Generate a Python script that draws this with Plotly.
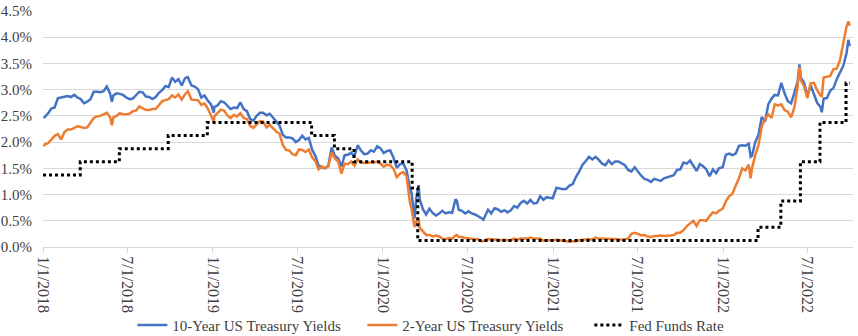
import plotly.graph_objects as go

# ---------------- data (weekly readings, %) ----------------
DATES = [
    # 2018
    "2018-01-02", "2018-01-05", "2018-01-12", "2018-01-19", "2018-01-26",
    "2018-02-02", "2018-02-09", "2018-02-16", "2018-02-23",
    "2018-03-02", "2018-03-09", "2018-03-16", "2018-03-23", "2018-03-30",
    "2018-04-06", "2018-04-13", "2018-04-20", "2018-04-27",
    "2018-05-04", "2018-05-11", "2018-05-18", "2018-05-25", "2018-05-29",
    "2018-06-01", "2018-06-08", "2018-06-15", "2018-06-22", "2018-06-29",
    "2018-07-06", "2018-07-13", "2018-07-20", "2018-07-27",
    "2018-08-03", "2018-08-10", "2018-08-17", "2018-08-24", "2018-08-31",
    "2018-09-07", "2018-09-14", "2018-09-21", "2018-09-28",
    "2018-10-05", "2018-10-12", "2018-10-19", "2018-10-26",
    "2018-11-02", "2018-11-08", "2018-11-16", "2018-11-23", "2018-11-30",
    "2018-12-07", "2018-12-14", "2018-12-21", "2018-12-28",
    # 2019
    "2019-01-03", "2019-01-04", "2019-01-11", "2019-01-18", "2019-01-25",
    "2019-02-01", "2019-02-08", "2019-02-15", "2019-02-22",
    "2019-03-01", "2019-03-08", "2019-03-15", "2019-03-22", "2019-03-29",
    "2019-04-05", "2019-04-12", "2019-04-19", "2019-04-26",
    "2019-05-03", "2019-05-10", "2019-05-17", "2019-05-24", "2019-05-31",
    "2019-06-07", "2019-06-14", "2019-06-21", "2019-06-28",
    "2019-07-05", "2019-07-12", "2019-07-19", "2019-07-26",
    "2019-08-02", "2019-08-09", "2019-08-16", "2019-08-23", "2019-08-30",
    "2019-09-06", "2019-09-13", "2019-09-20", "2019-09-27",
    "2019-10-04", "2019-10-11", "2019-10-18", "2019-10-25",
    "2019-11-01", "2019-11-08", "2019-11-15", "2019-11-22", "2019-11-29",
    "2019-12-06", "2019-12-13", "2019-12-20", "2019-12-27",
    # 2020
    "2020-01-03", "2020-01-10", "2020-01-17", "2020-01-24", "2020-01-31",
    "2020-02-07", "2020-02-14", "2020-02-21", "2020-02-28",
    "2020-03-03", "2020-03-06", "2020-03-09", "2020-03-13", "2020-03-18", "2020-03-20", "2020-03-27",
    "2020-04-03", "2020-04-10", "2020-04-17", "2020-04-24",
    "2020-05-01", "2020-05-08", "2020-05-15", "2020-05-22", "2020-05-29",
    "2020-06-05", "2020-06-08", "2020-06-12", "2020-06-19", "2020-06-26",
    "2020-07-03", "2020-07-10", "2020-07-17", "2020-07-24", "2020-07-31",
    "2020-08-04", "2020-08-07", "2020-08-14", "2020-08-21", "2020-08-28",
    "2020-09-04", "2020-09-11", "2020-09-18", "2020-09-25",
    "2020-10-02", "2020-10-09", "2020-10-16", "2020-10-23", "2020-10-30",
    "2020-11-06", "2020-11-13", "2020-11-20", "2020-11-27",
    "2020-12-04", "2020-12-11", "2020-12-18", "2020-12-24", "2020-12-31",
    # 2021
    "2021-01-08", "2021-01-15", "2021-01-22", "2021-01-29",
    "2021-02-05", "2021-02-12", "2021-02-19", "2021-02-26",
    "2021-03-05", "2021-03-12", "2021-03-19", "2021-03-26",
    "2021-04-02", "2021-04-09", "2021-04-16", "2021-04-23", "2021-04-30",
    "2021-05-07", "2021-05-14", "2021-05-21", "2021-05-28",
    "2021-06-04", "2021-06-11", "2021-06-18", "2021-06-25",
    "2021-07-02", "2021-07-09", "2021-07-16", "2021-07-23", "2021-07-30",
    "2021-08-06", "2021-08-13", "2021-08-20", "2021-08-27",
    "2021-09-03", "2021-09-10", "2021-09-17", "2021-09-24",
    "2021-10-01", "2021-10-08", "2021-10-15", "2021-10-22", "2021-10-29",
    "2021-11-05", "2021-11-12", "2021-11-19", "2021-11-26",
    "2021-12-03", "2021-12-10", "2021-12-17", "2021-12-23", "2021-12-31",
    # 2022
    "2022-01-07", "2022-01-14", "2022-01-21", "2022-01-28",
    "2022-02-04", "2022-02-11", "2022-02-18", "2022-02-25",
    "2022-03-01", "2022-03-04", "2022-03-11", "2022-03-18", "2022-03-25",
    "2022-04-01", "2022-04-08", "2022-04-15", "2022-04-22", "2022-04-29",
    "2022-05-06", "2022-05-13", "2022-05-20", "2022-05-27",
    "2022-06-03", "2022-06-10", "2022-06-14", "2022-06-17", "2022-06-24",
    "2022-07-01", "2022-07-08", "2022-07-15", "2022-07-22", "2022-07-29",
    "2022-08-01", "2022-08-05", "2022-08-12", "2022-08-19", "2022-08-26",
    "2022-09-02", "2022-09-09", "2022-09-16", "2022-09-23", "2022-09-27", "2022-09-30",
]

TEN_YEAR = [
    # 2018
    2.46, 2.48, 2.55, 2.64, 2.66,
    2.84, 2.85, 2.87, 2.88,
    2.86, 2.90, 2.85, 2.82, 2.74,
    2.77, 2.82, 2.96, 2.96,
    2.95, 2.97, 3.06, 2.93, 2.77,
    2.89, 2.93, 2.92, 2.90, 2.85,
    2.82, 2.83, 2.89, 2.96,
    2.95, 2.87, 2.86, 2.82, 2.86,
    2.94, 2.99, 3.07, 3.05,
    3.23, 3.15, 3.20, 3.08,
    3.22, 3.24, 3.08, 3.06, 3.01,
    2.85, 2.89, 2.79, 2.72,
    # 2019
    2.56, 2.67, 2.70, 2.78, 2.76,
    2.69, 2.63, 2.66, 2.65,
    2.76, 2.63, 2.59, 2.44, 2.41,
    2.50, 2.56, 2.56, 2.51,
    2.54, 2.47, 2.39, 2.32, 2.14,
    2.09, 2.09, 2.07, 2.00,
    2.04, 2.12, 2.05, 2.08,
    1.86, 1.74, 1.55, 1.52, 1.50,
    1.55, 1.90, 1.74, 1.69,
    1.53, 1.75, 1.76, 1.80,
    1.73, 1.94, 1.84, 1.77, 1.78,
    1.84, 1.82, 1.92, 1.88,
    # 2020
    1.79, 1.83, 1.84, 1.70, 1.51,
    1.58, 1.59, 1.46, 1.13,
    1.02, 0.71, 0.54, 0.94, 1.18, 0.92, 0.72,
    0.62, 0.73, 0.65, 0.60,
    0.64, 0.69, 0.64, 0.66, 0.65,
    0.91, 0.88, 0.71, 0.69, 0.64,
    0.68, 0.64, 0.62, 0.59, 0.55,
    0.52, 0.57, 0.71, 0.64, 0.74,
    0.72, 0.67, 0.70, 0.66,
    0.70, 0.78, 0.75, 0.84, 0.88,
    0.83, 0.90, 0.83, 0.84,
    0.97, 0.90, 0.95, 0.94, 0.93,
    # 2021
    1.13, 1.11, 1.10, 1.11,
    1.17, 1.20, 1.34, 1.44,
    1.57, 1.64, 1.72, 1.67,
    1.72, 1.66, 1.59, 1.56, 1.65,
    1.58, 1.63, 1.63, 1.59,
    1.56, 1.47, 1.44, 1.52,
    1.43, 1.36, 1.30, 1.28, 1.24,
    1.30, 1.28, 1.26, 1.31,
    1.33, 1.34, 1.37, 1.47,
    1.48, 1.61, 1.59, 1.65, 1.55,
    1.45, 1.58, 1.54, 1.48,
    1.35, 1.48, 1.41, 1.50, 1.52,
    # 2022
    1.76, 1.78, 1.75, 1.78,
    1.93, 1.94, 1.93, 1.97,
    1.72, 1.74, 2.00, 2.14, 2.48,
    2.39, 2.72, 2.83, 2.90, 2.89,
    3.13, 2.93, 2.78, 2.74,
    2.94, 3.15, 3.48, 3.23, 3.13,
    2.88, 3.08, 2.93, 2.75, 2.67,
    2.57, 2.83, 2.84, 2.98, 3.03,
    3.20, 3.32, 3.45, 3.69, 3.95, 3.83,
]

TWO_YEAR = [
    # 2018
    1.92, 1.96, 1.98, 2.06, 2.12,
    2.15, 2.05, 2.19, 2.24,
    2.24, 2.27, 2.30, 2.29, 2.27,
    2.28, 2.37, 2.46, 2.49,
    2.50, 2.53, 2.56, 2.48, 2.32,
    2.47, 2.50, 2.55, 2.53, 2.53,
    2.54, 2.59, 2.60, 2.68,
    2.64, 2.61, 2.61, 2.63, 2.63,
    2.71, 2.78, 2.80, 2.82,
    2.89, 2.85, 2.91, 2.81,
    2.91, 2.97, 2.81, 2.81, 2.80,
    2.71, 2.74, 2.64, 2.52,
    # 2019
    2.39, 2.49, 2.55, 2.62, 2.60,
    2.51, 2.46, 2.52, 2.49,
    2.55, 2.46, 2.44, 2.31, 2.27,
    2.34, 2.40, 2.39, 2.28,
    2.33, 2.27, 2.20, 2.16, 1.95,
    1.85, 1.84, 1.77, 1.75,
    1.86, 1.85, 1.81, 1.86,
    1.71, 1.64, 1.48, 1.54, 1.50,
    1.54, 1.80, 1.69, 1.63,
    1.40, 1.59, 1.58, 1.63,
    1.55, 1.67, 1.61, 1.60, 1.61,
    1.61, 1.61, 1.63, 1.59,
    # 2020
    1.53, 1.57, 1.56, 1.49, 1.33,
    1.40, 1.43, 1.35, 0.86,
    0.72, 0.49, 0.38, 0.49, 0.54, 0.37, 0.30,
    0.23, 0.23, 0.20, 0.22,
    0.20, 0.16, 0.15, 0.17, 0.16,
    0.22, 0.23, 0.19, 0.19, 0.17,
    0.16, 0.15, 0.15, 0.15, 0.11,
    0.11, 0.13, 0.15, 0.15, 0.14,
    0.14, 0.13, 0.14, 0.13,
    0.13, 0.16, 0.14, 0.16, 0.16,
    0.16, 0.18, 0.16, 0.16,
    0.16, 0.12, 0.13, 0.13, 0.13,
    # 2021
    0.14, 0.13, 0.12, 0.11,
    0.10, 0.11, 0.11, 0.13,
    0.14, 0.15, 0.15, 0.14,
    0.18, 0.16, 0.16, 0.16, 0.16,
    0.15, 0.15, 0.15, 0.14,
    0.15, 0.16, 0.25, 0.27,
    0.25, 0.22, 0.23, 0.20, 0.19,
    0.21, 0.21, 0.22, 0.21,
    0.21, 0.22, 0.23, 0.27,
    0.27, 0.32, 0.40, 0.45, 0.50,
    0.40, 0.51, 0.51, 0.50,
    0.59, 0.66, 0.64, 0.69, 0.73,
    # 2022
    0.87, 0.97, 1.01, 1.17,
    1.31, 1.50, 1.46, 1.57,
    1.31, 1.50, 1.75, 1.94, 2.30,
    2.44, 2.53, 2.46, 2.72, 2.70,
    2.72, 2.61, 2.58, 2.47,
    2.66, 3.06, 3.43, 3.18, 3.06,
    2.84, 3.12, 3.13, 2.99, 2.89,
    2.88, 3.23, 3.25, 3.26, 3.39,
    3.40, 3.56, 3.87, 4.20, 4.30, 4.22,
]

FED_DATES = ["2018-01-01", "2018-03-22", "2018-06-14", "2018-09-27", "2018-12-20",
             "2019-08-01", "2019-09-19", "2019-10-31", "2020-03-04", "2020-03-16",
             "2022-03-17", "2022-05-05", "2022-06-16", "2022-07-28", "2022-09-22",
             "2022-09-30"]
FED_RATE = [1.375, 1.625, 1.875, 2.125, 2.375,
            2.125, 1.875, 1.625, 1.125, 0.125,
            0.375, 0.875, 1.625, 2.375, 3.125,
            3.125]

TICK_DATES = ["2018-01-01", "2018-07-01", "2019-01-01", "2019-07-01", "2020-01-01",
              "2020-07-01", "2021-01-01", "2021-07-01", "2022-01-01", "2022-07-01"]
TICK_TEXT = ["1/1/2018", "7/1/2018", "1/1/2019", "7/1/2019", "1/1/2020",
             "7/1/2020", "1/1/2021", "7/1/2021", "1/1/2022", "7/1/2022"]
Y_TICKS = [0.0, 0.5, 1.0, 1.5, 2.0, 2.5, 3.0, 3.5, 4.0, 4.5]
Y_TICK_TEXT = ["0.0%", "0.5%", "1.0%", "1.5%", "2.0%", "2.5%", "3.0%", "3.5%", "4.0%", "4.5%"]

SERIES_NAMES = ["10-Year US Treasury Yields", "2-Year US Treasury Yields", "Fed Funds Rate"]

# ---------------- figure ----------------
FONT = "Liberation Serif"
TXT = "#404040"
GRID = "#D9D9D9"

fig = go.Figure()
fig.add_trace(go.Scatter(x=DATES, y=TEN_YEAR, mode="lines", name=SERIES_NAMES[0],
                         legendwidth=185,
                         line=dict(color="#4472C4", width=2.5)))
fig.add_trace(go.Scatter(x=DATES, y=TWO_YEAR, mode="lines", name=SERIES_NAMES[1],
                         legendwidth=182,
                         line=dict(color="#ED7D31", width=2.5)))
fig.add_trace(go.Scatter(x=FED_DATES, y=FED_RATE, mode="lines", name=SERIES_NAMES[2],
                         legendwidth=92,
                         line=dict(color="#000000", width=3, dash="dot", shape="hv")))

fig.update_layout(
    width=858, height=336,
    margin=dict(l=43, r=5, t=11, b=89, autoexpand=False),
    paper_bgcolor="white", plot_bgcolor="white",
    font=dict(family=FONT, size=15, color=TXT),
    showlegend=True,
    legend=dict(orientation="h", x=0.477, xanchor="center", y=-0.262, yanchor="top",
                font=dict(family=FONT, size=15, color=TXT),
                bgcolor="rgba(0,0,0,0)", itemwidth=30),
)
fig.update_xaxes(
    type="date", range=["2018-01-01", "2022-10-07"],
    tickmode="array", tickvals=TICK_DATES, ticktext=TICK_TEXT,
    tickangle=90, tickfont=dict(family=FONT, size=16, color=TXT),
    ticks="outside", ticklen=5, tickcolor=GRID, tickwidth=1,
    showline=True, linecolor=GRID, linewidth=1,
    showgrid=False, zeroline=False, automargin=False,
)
fig.update_yaxes(
    range=[0, 4.5], tickmode="array", tickvals=Y_TICKS, ticktext=Y_TICK_TEXT,
    tickfont=dict(family=FONT, size=15, color=TXT), ticklabelstandoff=10,
    showgrid=True, gridcolor=GRID, gridwidth=1,
    zeroline=False, showline=False, ticks="", automargin=False,
)

fig.write_html("out.html")
